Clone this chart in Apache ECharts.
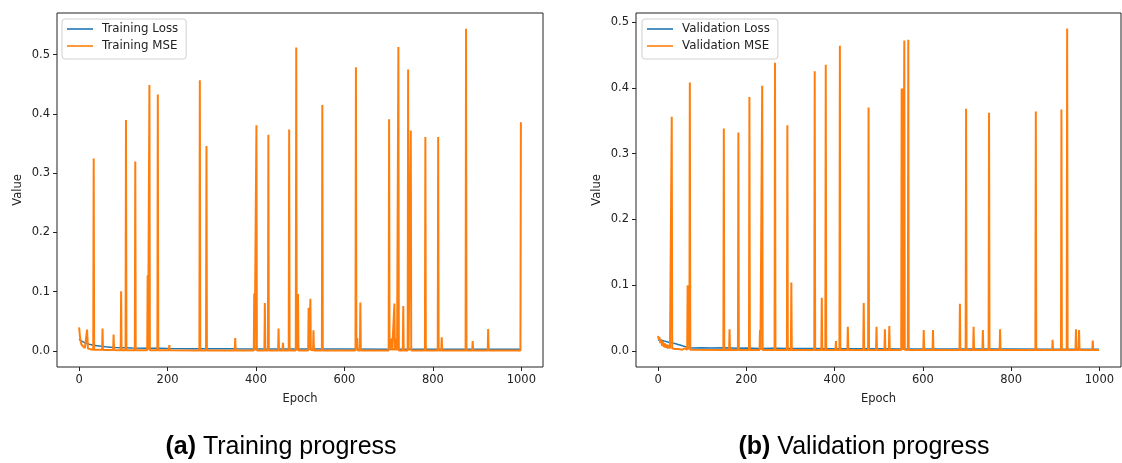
<!DOCTYPE html>
<html>
<head>
<meta charset="utf-8">
<script src="https://cdn.jsdelivr.net/npm/echarts@6/dist/echarts.min.js"></script>
<style>html,body{margin:0;padding:0;background:#fff}#c{width:1122px;height:463px}</style>
</head>
<body>
<div id="c"></div>
<script>
// ---- data ----
const xTicks = [0, 200, 400, 600, 800, 1000];
const yTicks = [0, 0.1, 0.2, 0.3, 0.4, 0.5];

const trainLoss = [[0,0.020],[5,0.017],[10,0.015],[15,0.013],[20,0.012],[30,0.010],[40,0.009],[50,0.008],[60,0.007],[70,0.0065],[80,0.006],[100,0.0055],[120,0.005],[150,0.0048],[180,0.0045],[200,0.0043],[250,0.004],[300,0.0038],[350,0.0036],[400,0.0035],[500,0.0033],[600,0.0032],[700,0.0031],[800,0.003],[900,0.003],[999,0.003]];

const trainMSE = [[0,0.040],[2,0.024],[4,0.014],[6,0.010],[9,0.007],[13,0.005],[17,0.004],[18,0.036],[19,0.035],[20,0.004],[26,0.003],[32,0.002],[33,0.325],[34,0.002],[52,0.002],[53,0.038],[54,0.0018],[77,0.0016],[78,0.028],[79,0.0015],[94,0.0014],[95,0.101],[96,0.0014],[105,0.0013],[106,0.390],[107,0.0013],[126,0.0012],[127,0.320],[128,0.0012],[154,0.0012],[155,0.128],[156,0.002],[158,0.0012],[159,0.449],[160,0.0012],[177,0.0011],[178,0.433],[179,0.0011],[203,0.0011],[204,0.010],[205,0.0011],[272,0.001],[273,0.457],[274,0.001],[287,0.001],[288,0.346],[289,0.001],[352,0.001],[353,0.022],[354,0.001],[395,0.001],[396,0.097],[397,0.001],[400,0.001],[401,0.381],[402,0.001],[419,0.001],[420,0.081],[421,0.001],[427,0.001],[428,0.365],[429,0.001],[450,0.001],[451,0.038],[452,0.001],[460,0.001],[461,0.014],[462,0.001],[474,0.001],[475,0.374],[476,0.001],[490,0.001],[491,0.512],[492,0.001],[494,0.001],[495,0.096],[496,0.001],[518,0.001],[519,0.073],[520,0.002],[522,0.003],[523,0.088],[524,0.002],[529,0.001],[530,0.035],[531,0.001],[549,0.001],[550,0.415],[551,0.001],[625,0.001],[626,0.479],[627,0.002],[629,0.022],[630,0.001],[635,0.001],[636,0.082],[637,0.001],[700,0.001],[701,0.391],[702,0.001],[706,0.001],[707,0.021],[708,0.001],[712,0.001],[713,0.080],[714,0.001],[717,0.001],[718,0.021],[719,0.001],[721,0.001],[722,0.513],[723,0.001],[732,0.001],[733,0.076],[734,0.001],[743,0.001],[744,0.475],[745,0.001],[749,0.001],[750,0.372],[751,0.001],[782,0.001],[783,0.361],[784,0.001],[811,0.001],[812,0.361],[813,0.001],[819,0.001],[820,0.023],[821,0.001],[874,0.001],[875,0.544],[876,0.001],[889,0.001],[890,0.017],[891,0.001],[924,0.001],[925,0.037],[926,0.001],[998,0.001],[999,0.386]];

const valLoss = [[0,0.017],[5,0.016],[10,0.016],[15,0.015],[20,0.014],[25,0.013],[30,0.013],[35,0.012],[40,0.011],[45,0.010],[50,0.009],[55,0.008],[60,0.007],[65,0.006],[70,0.005],[80,0.0045],[100,0.005],[120,0.0045],[150,0.0048],[180,0.0042],[200,0.0045],[230,0.004],[260,0.0042],[300,0.0038],[350,0.0037],[400,0.0035],[450,0.0034],[500,0.0033],[550,0.0032],[600,0.003],[700,0.003],[800,0.0029],[900,0.0028],[999,0.0028]];

const valMSE = [[0,0.023],[2,0.017],[3,0.021],[5,0.012],[7,0.018],[9,0.008],[11,0.015],[13,0.006],[15,0.012],[17,0.005],[19,0.010],[22,0.004],[24,0.009],[27,0.004],[29,0.007],[30,0.004],[31,0.356],[32,0.004],[35,0.007],[38,0.003],[42,0.006],[46,0.003],[50,0.005],[55,0.002],[60,0.004],[66,0.002],[67,0.100],[68,0.060],[69,0.100],[70,0.030],[71,0.002],[72,0.408],[73,0.002],[148,0.0015],[149,0.338],[150,0.0015],[161,0.0015],[162,0.033],[163,0.0015],[181,0.0015],[182,0.332],[183,0.0015],[206,0.0015],[207,0.386],[208,0.0015],[230,0.0015],[231,0.032],[232,0.002],[235,0.0015],[236,0.403],[237,0.0015],[264,0.0015],[265,0.438],[266,0.0015],[292,0.0015],[293,0.343],[294,0.0015],[301,0.0015],[302,0.104],[303,0.0015],[354,0.0015],[355,0.425],[356,0.0015],[370,0.0015],[371,0.081],[372,0.0015],[379,0.0015],[380,0.435],[381,0.0015],[402,0.0015],[403,0.015],[404,0.0015],[411,0.0015],[412,0.464],[413,0.0015],[429,0.0015],[430,0.037],[431,0.0015],[465,0.0015],[466,0.073],[467,0.0015],[476,0.0015],[477,0.370],[478,0.0015],[494,0.0015],[495,0.037],[496,0.0015],[513,0.0015],[514,0.033],[515,0.0015],[523,0.0015],[524,0.038],[525,0.0015],[551,0.0015],[552,0.399],[553,0.300],[554,0.399],[555,0.002],[557,0.002],[558,0.472],[559,0.002],[566,0.0015],[567,0.473],[568,0.0015],[601,0.0015],[602,0.032],[603,0.0015],[622,0.0015],[623,0.032],[624,0.0015],[683,0.0015],[684,0.072],[685,0.0015],[697,0.0015],[698,0.368],[699,0.0015],[714,0.0015],[715,0.037],[716,0.0015],[735,0.0015],[736,0.032],[737,0.0015],[749,0.0015],[750,0.362],[751,0.0015],[774,0.0015],[775,0.033],[776,0.0015],[855,0.0015],[856,0.364],[857,0.0015],[893,0.0015],[894,0.017],[895,0.0015],[913,0.0015],[914,0.367],[915,0.0015],[926,0.0015],[927,0.490],[928,0.0015],[946,0.0015],[947,0.033],[948,0.0015],[953,0.0015],[954,0.032],[955,0.0015],[984,0.0015],[985,0.016],[986,0.0015],[999,0.0015]];

const names = {
  train: ['Training Loss', 'Training MSE'],
  val: ['Validation Loss', 'Validation MSE']
};
const captions = [['(a)', ' Training progress'], ['(b)', ' Validation progress']];

// ---- chart ----
const BLUE = '#1f77b4', ORANGE = '#ff7f0e', INK = '#222';
const FONT = 'DejaVu Sans';
const chart = echarts.init(document.getElementById('c'), null, {renderer: 'canvas'});

function xAxis(gi) {
  return {
    type: 'value', gridIndex: gi, min: -50, max: 1049, position: 'bottom',
    name: 'Epoch', nameLocation: 'middle', nameGap: 26,
    nameTextStyle: {fontFamily: FONT, fontSize: 11.5, color: INK},
    axisLine: {show: false, onZero: false},
    splitLine: {show: false},
    axisTick: {show: true, length: 4, lineStyle: {color: INK}, customValues: xTicks},
    axisLabel: {margin: 7, fontFamily: FONT, fontSize: 11.5, color: INK, customValues: xTicks,
      formatter: v => String(v)}
  };
}
function yAxis(gi, min, max) {
  return {
    type: 'value', gridIndex: gi, min: min, max: max, position: 'left',
    name: 'Value', nameLocation: 'middle', nameGap: 33, nameRotate: 90,
    nameTextStyle: {fontFamily: FONT, fontSize: 11.5, color: INK},
    axisLine: {show: false, onZero: false},
    splitLine: {show: false},
    axisTick: {show: true, length: 4, lineStyle: {color: INK}, customValues: yTicks},
    axisLabel: {margin: 7, fontFamily: FONT, fontSize: 11.5, color: INK, customValues: yTicks,
      formatter: v => v.toFixed(1)}
  };
}
function legend(left, data) {
  return {
    orient: 'vertical', left: left, top: 19, data: data,
    icon: 'rect', itemWidth: 26, itemHeight: 1.6, itemGap: 5,
    padding: [4, 8, 7, 5],
    borderColor: '#d0d0d0', borderWidth: 1, borderRadius: 3,
    backgroundColor: 'rgba(255,255,255,0.8)',
    textStyle: {fontFamily: FONT, fontSize: 11.8, color: INK, padding: [0, 0, 0, 4]}
  };
}
function line(name, data, color, gi, w, z) {
  return {
    name: name, type: 'line', data: data, xAxisIndex: gi, yAxisIndex: gi,
    symbol: 'none', showSymbol: false, sampling: null, z: z,
    lineStyle: {color: color, width: w}, itemStyle: {color: color}
  };
}
function caption(x, parts) {
  return {
    type: 'text', x: x, y: 447,
    style: {
      text: '{b|' + parts[0] + '}{n|' + parts[1] + '}',
      textAlign: 'center', textVerticalAlign: 'middle',
      rich: {
        b: {fontFamily: 'Liberation Sans', fontWeight: 'bold', fontSize: 25, fill: '#000'},
        n: {fontFamily: 'Liberation Sans', fontSize: 25, fill: '#000'}
      }
    }
  };
}

chart.setOption({
  animation: false,
  backgroundColor: '#fff',
  grid: [
    {left: 57, top: 13, width: 486, height: 354, show: true, borderColor: INK, borderWidth: 1, backgroundColor: 'transparent'},
    {left: 636, top: 13, width: 485, height: 354, show: true, borderColor: INK, borderWidth: 1, backgroundColor: 'transparent'}
  ],
  xAxis: [xAxis(0), xAxis(1)],
  yAxis: [yAxis(0, -0.027, 0.5704), yAxis(1, -0.0243, 0.5137)],
  legend: [legend(62, names.train), legend(642, names.val)],
  series: [
    line(names.train[0], trainLoss, BLUE, 0, 1.5, 2),
    line(names.train[1], trainMSE, ORANGE, 0, 2, 3),
    line(names.val[0], valLoss, BLUE, 1, 1.5, 2),
    line(names.val[1], valMSE, ORANGE, 1, 2, 3)
  ],
  graphic: [caption(281, captions[0]), caption(864, captions[1])]
});
</script>
</body>
</html>
